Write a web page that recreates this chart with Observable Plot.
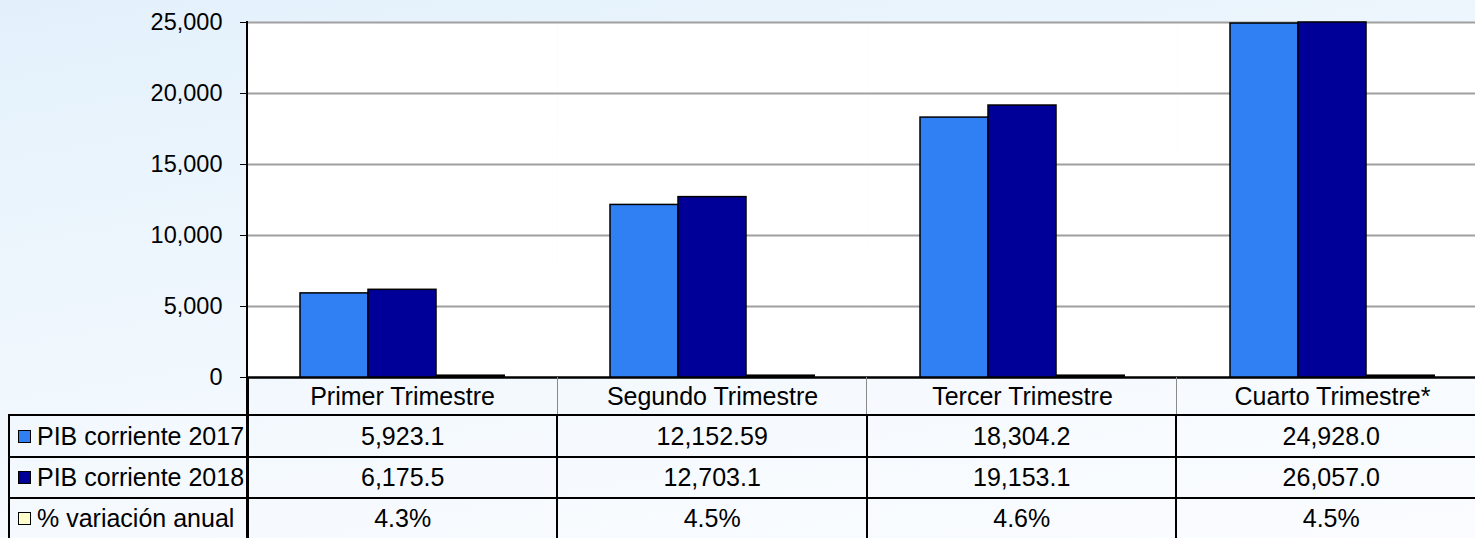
<!DOCTYPE html>
<html>
<head>
<meta charset="utf-8">
<script src="https://cdn.jsdelivr.net/npm/d3@7"></script>
<script src="https://cdn.jsdelivr.net/npm/@observablehq/plot@0.6"></script>
<style>
  html, body { margin: 0; padding: 0; }
  body {
    width: 1475px; height: 538px; overflow: hidden;
    background: linear-gradient(170deg, #e3f0fb 0%, #edf6fd 35%, #f6fafe 70%, #fafcff 100%);
    font-family: "Liberation Sans", Arial, sans-serif;
  }
  #wrap { position: relative; width: 1487px; height: 538px; }
  #chart { position: absolute; left: 0; top: 0; }
  #chart g[aria-label="y-axis tick label"] { font-size: 23.5px; }
  table.dt {
    position: absolute; left: 8px; top: 377px;
    border-collapse: collapse; table-layout: fixed;
    font-family: "Liberation Sans", Arial, sans-serif; font-size: 25px; color: #000;
  }
  table.dt td { padding: 0; text-align: center; vertical-align: middle; border: 2px solid #000; white-space: nowrap; }
  table.dt tr.hdr td { border-top: none; border-bottom: 2px solid #000; border-left: 1px solid #8a8a8a; border-right: 1px solid #8a8a8a; background: transparent; }
  table.dt tr.hdr td.blank { border-left: none; border-right: 2px solid #000; }
  table.dt td.lab { text-align: left; padding-left: 8px; }
  .sw { display: inline-block; width: 11px; height: 11px; border: 1px solid #000; margin-right: 6px; vertical-align: 2px; }
  #yline { position: absolute; left: 246px; top: 21px; width: 2px; height: 517px; background: #000; }
</style>
</head>
<body>
<div id="wrap">
  <div id="chart"></div>
  <div id="yline"></div>
</div>
<script>
const quarters = ["Primer Trimestre", "Segundo Trimestre", "Tercer Trimestre", "Cuarto Trimestre*"];
const series = ["PIB corriente 2017", "PIB corriente 2018", "% variación anual"];
const pib2017 = [5923.1, 12152.59, 18304.2, 24928.0];
const pib2018 = [6175.5, 12703.1, 19153.1, 26057.0];
const variacion = [4.3, 4.5, 4.6, 4.5];
const colors = ["#3080f4", "#000099", "#ffffcc"];
const yTicks = [0, 5000, 10000, 15000, 20000, 25000];

const seriesValues = [pib2017, pib2018, variacion];
const data = quarters.flatMap((q, i) => series.map((s, j) => ({q, s, v: seriesValues[j][i]})));

const chart = Plot.plot({
  width: 1487,
  height: 416,
  marginTop: 22,
  marginBottom: 39,
  marginLeft: 247,
  marginRight: 0,
  style: {fontFamily: "Liberation Sans, Arial, sans-serif", fontSize: "25px", background: "transparent", color: "#000", overflow: "visible"},
  fx: {domain: quarters, padding: 0, label: null, axis: "bottom", tickSize: 0, tickPadding: 10},
  x: {domain: series, axis: null, paddingInner: 0, paddingOuter: 0.75},
  y: {domain: [0, 25000], clamp: true, ticks: yTicks, tickFormat: d3.format(","), tickSize: 7, tickPadding: 18, label: null},
  color: {domain: series, range: colors},
  marks: [
    Plot.frame({fill: "white", stroke: "none"}),
    Plot.ruleY(yTicks.slice(1), {stroke: "#a0a0a0", strokeWidth: 2}),
    Plot.ruleY([0], {stroke: "#000", strokeWidth: 2.5}),
    Plot.barY(data.filter(d => d.s !== series[2]), {fx: "q", x: "s", y: "v", fill: "s", stroke: "#000", strokeWidth: 1.5}),
    Plot.barY(data.filter(d => d.s === series[2]), {fx: "q", x: "s", y: "v", fill: "s", stroke: "#000", strokeWidth: 2, insetTop: -1.5})
  ]
});
document.getElementById("chart").appendChild(chart);

// data table below the chart
function fmtNum(n) {
  const s = String(n);
  const dec = s.includes(".") ? s.split(".")[1].length : 1;
  return d3.format(`,.${dec}f`)(n);
}
const fmtPct = n => d3.format(".1f")(n) + "%";
const table = document.createElement("table");
table.className = "dt";
const colW = [239, 310, 310, 310, 310];
const cg = document.createElement("colgroup");
colW.forEach(w => { const c = document.createElement("col"); c.style.width = w + "px"; cg.appendChild(c); });
table.appendChild(cg);
const hdr = document.createElement("tr");
hdr.className = "hdr";
hdr.style.height = "38px";
const b = document.createElement("td"); b.className = "blank"; hdr.appendChild(b);
quarters.forEach((q, i) => {
  const td = document.createElement("td");
  if (i === 0) td.style.borderLeft = "2px solid #000";
  hdr.appendChild(td);
});
table.appendChild(hdr);
const rowH = [42, 41, 41];
series.forEach((s, j) => {
  const tr = document.createElement("tr");
  tr.style.height = rowH[j] + "px";
  const lab = document.createElement("td");
  lab.className = "lab";
  const sw = document.createElement("span");
  sw.className = "sw";
  sw.style.background = colors[j];
  lab.appendChild(sw);
  lab.appendChild(document.createTextNode(s));
  tr.appendChild(lab);
  seriesValues[j].forEach(v => {
    const td = document.createElement("td");
    td.textContent = j === 2 ? fmtPct(v) : fmtNum(v);
    tr.appendChild(td);
  });
  table.appendChild(tr);
});
document.getElementById("wrap").appendChild(table);
</script>
</body>
</html>
